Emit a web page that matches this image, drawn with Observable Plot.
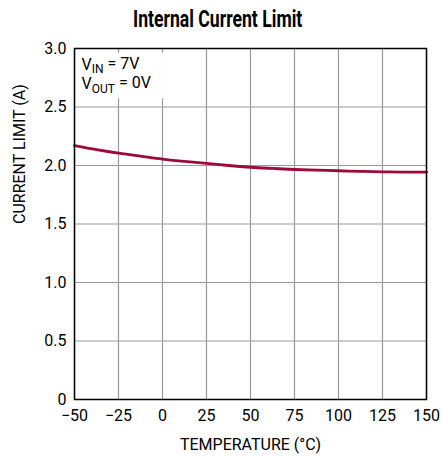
<!DOCTYPE html>
<html>
<head>
<meta charset="utf-8">
<script src="https://cdn.jsdelivr.net/npm/d3@7"></script>
<script src="https://cdn.jsdelivr.net/npm/@observablehq/plot@0.6"></script>
<style>
  body { margin: 0; background: #fff; font-family: "Roboto", sans-serif; }
  #titlewrap { height: 40px; position: relative; }
  #title { position: absolute; left: 133px; top: 0; margin: 0; font-weight: bold; font-size: 23.5px; line-height: 38px; color: #000; transform: scaleX(0.75); transform-origin: left center; white-space: nowrap; }
  #chart svg { display: block; }
</style>
</head>
<body>
<div id="titlewrap"><div id="title">Internal Current Limit</div></div>
<div id="chart"></div>
<script>
const temperature = [-50, -37.5, -25, -12.5, 0, 12.5, 25, 37.5, 50, 62.5, 75, 87.5, 100, 112.5, 125, 137.5, 150];
const currentLimit = [2.17, 2.135, 2.105, 2.08, 2.055, 2.035, 2.018, 2.0, 1.985, 1.975, 1.966, 1.96, 1.955, 1.95, 1.946, 1.944, 1.943];
const xTicks = [-50, -25, 0, 25, 50, 75, 100, 125, 150];
const yTicks = [0, 0.5, 1.0, 1.5, 2.0, 2.5, 3.0];
const xLabel = "TEMPERATURE (°C)";
const yLabel = "CURRENT LIMIT (A)";
const annotLines = ["V|IN| = 7V", "V|OUT| = 0V"];

const data = temperature.map((t, i) => ({t, c: currentLimit[i]}));

const plot = Plot.plot({
  width: 442,
  height: 418,
  marginTop: 8,
  marginBottom: 59,
  marginLeft: 74,
  marginRight: 16,
  style: {fontFamily: '"Roboto", sans-serif', fontSize: "16px", color: "#000", background: "#fff"},
  x: {domain: [-50, 150], ticks: xTicks, tickSize: 0, tickPadding: 10, label: null},
  y: {domain: [0, 3], ticks: yTicks, tickSize: 0, tickPadding: 8, label: null,
      tickFormat: d => d === 0 ? "0" : d.toFixed(1)},
  marks: [
    Plot.gridX(xTicks, {stroke: "#9a9a9a", strokeOpacity: 1, strokeWidth: 1.2}),
    Plot.gridY(yTicks, {stroke: "#9a9a9a", strokeOpacity: 1, strokeWidth: 1.2}),
    Plot.rect([{x1: -48.5, x2: 1, y1: 2.57, y2: 2.96}], {x1: "x1", x2: "x2", y1: "y1", y2: "y2", fill: "white"}),
    Plot.line(data, {x: "t", y: "c", stroke: "#9c0a3a", strokeWidth: 2.8, curve: "natural"}),
    Plot.frame({stroke: "#000", strokeWidth: 1.5}),
    Plot.axisX({ticks: xTicks, tickSize: 0, tickPadding: 10, fontSize: 16, label: null}),
    Plot.axisY({ticks: yTicks, tickSize: 0, tickPadding: 8, fontSize: 16, label: null, tickFormat: d => d === 0 ? "0" : d.toFixed(1)}),
    Plot.text([xLabel], {frameAnchor: "bottom", dy: 50, text: d => d, fontSize: 16}),
    Plot.text([yLabel], {frameAnchor: "left", dx: -55, rotate: -90, text: d => d, fontSize: 16}),
    Plot.text([annotLines[0]], {x: -46, y: 2.915, text: d => d, textAnchor: "start", lineAnchor: "top", fontSize: 16, className: "annot"}),
    Plot.text([annotLines[1]], {x: -46, y: 2.75, text: d => d, textAnchor: "start", lineAnchor: "top", fontSize: 16, className: "annot"})
  ]
});
document.getElementById("chart").appendChild(plot);

// Render subscripts in the annotation
d3.select(plot).selectAll("g.annot text").each(function() {
  const el = d3.select(this);
  const s = this.textContent;
  if (!s.includes("|")) return;
  const parts = s.split("|");
  el.text(null);
  parts.forEach((p, i) => {
    const ts = el.append("tspan").text(p);
    if (i === 1) ts.attr("dy", "0.3em").attr("font-size", "12px");
    if (i === 2) ts.attr("dy", "-0.3em");
  });
});
</script>
</body>
</html>
